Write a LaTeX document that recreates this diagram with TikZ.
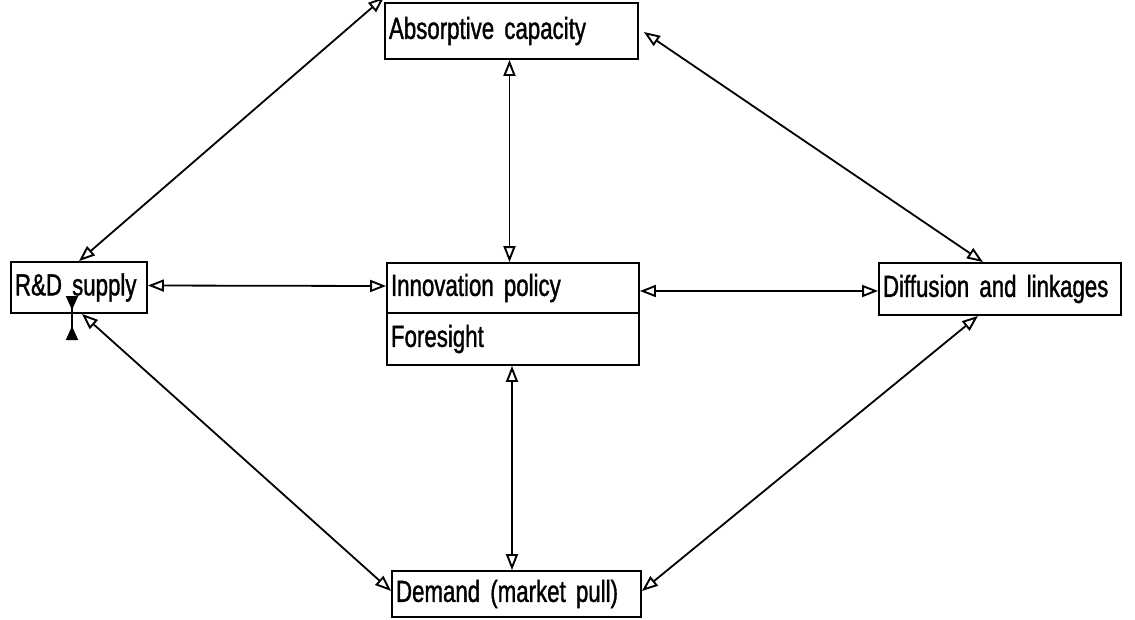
\documentclass[tikz,border=0pt]{standalone}
\usepackage{fontspec}
\setmainfont{Liberation Sans}[FakeStretch=0.73,FakeBold=1.2]
\usetikzlibrary{arrows.meta}
\newcommand{\labelfont}{\fontsize{30.5}{32}\selectfont\spaceskip=5pt plus 1pt\relax}
\begin{document}
\begin{tikzpicture}[x=1pt,y=-1pt,
  box/.style={draw, line width=1.8pt, rectangle, inner xsep=4pt, inner ysep=0pt,
    align=left, anchor=center, font=\labelfont},
  link/.style={line width=1.8pt,
    {Triangle[open,length=16pt,width=12pt,line width=1.9pt]}-{Triangle[open,length=16pt,width=12pt,line width=1.9pt]}},
  tick/.style={line width=1.5pt,
    {Triangle[reversed,length=14pt,width=12pt]}-{Triangle[reversed,length=14pt,width=12pt]}}]
\useasboundingbox (0,0) rectangle (1135,619);

% boxes
\node[box, text width=245pt, minimum height=56pt] (abs) at (511.5,31) {Absorptive capacity};
\node[box, text width=244pt, minimum height=50pt] (inn) at (513,288) {Innovation policy};
\node[box, text width=244pt, minimum height=52pt] (fs)  at (513,339) {Foresight};
\node[box, text width=128pt, minimum height=51pt] (rd)  at (79,287.5) {R\&D supply};
\node[box, text width=234pt, minimum height=52pt] (dif) at (1000,289) {Diffusion and linkages};
\node[box, text width=241pt, minimum height=46pt] (dem) at (516.5,594) {Demand (market pull)};

% small marker under R&D supply
\coordinate (m1) at (72,296);
\coordinate (m2) at (72,340);
\draw[tick] (m1) -- (m2);

% connectors
\draw[link] (rd.north) -- ([yshift=5pt]abs.north west);
\draw[link] ([xshift=5pt,yshift=-1pt]abs.east) -- ([xshift=-17pt]dif.north);
\draw[link] ([xshift=-2pt]abs.south) -- ([xshift=-2pt]abs.south |- inn.north);
\draw[link] ([yshift=2pt]rd.east) -- ([yshift=2pt]inn.west);
\draw[link] ([yshift=-3pt]inn.east) -- ([yshift=-3pt]inn.east -| dif.west);
\draw[link] ([xshift=-1pt]fs.south) -- ([xshift=-1pt]fs.south |- dem.north);
\draw[link] ([xshift=3pt]rd.south) -- ([yshift=3pt]dem.west);
\draw[link] ([xshift=-22pt]dif.south) -- ([yshift=3pt]dem.east);
\end{tikzpicture}
\end{document}
